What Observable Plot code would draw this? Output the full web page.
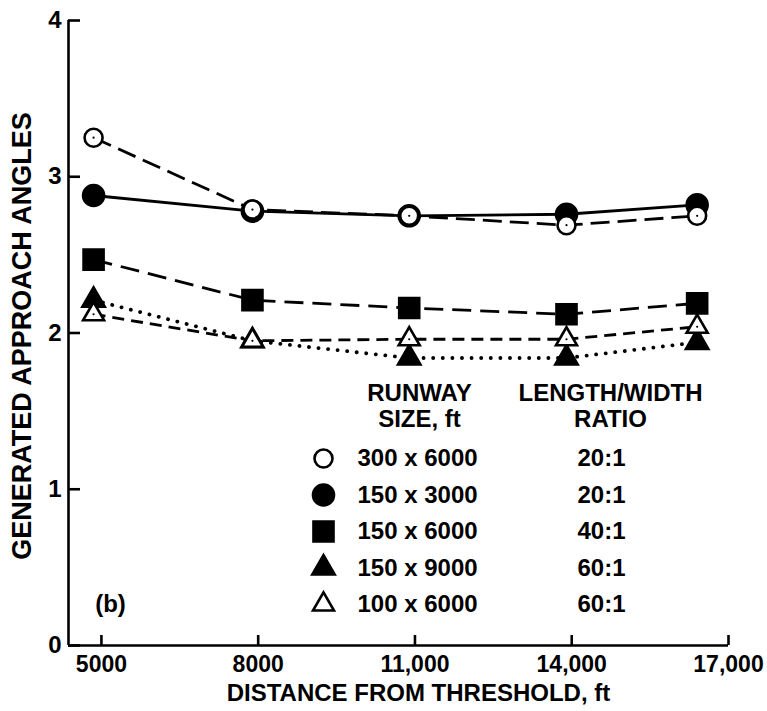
<!DOCTYPE html>
<html><head><meta charset="utf-8">
<script src="https://cdn.jsdelivr.net/npm/d3@7"></script>
<script src="https://cdn.jsdelivr.net/npm/@observablehq/plot@0.6"></script>
<style>body{margin:0;background:#fff} svg{display:block}</style>
</head><body><div id="chart"></div>
<script>
// ---- data ----
const distances = [4850, 7890, 10890, 13900, 16400];
const runwaySizes = ["300 x 6000", "150 x 3000", "150 x 6000", "150 x 9000", "100 x 6000"];
const ratios = ["20:1", "20:1", "40:1", "60:1", "60:1"];
const angles300x6000 = [3.25, 2.79, 2.75, 2.69, 2.75];
const angles150x3000 = [2.88, 2.78, 2.75, 2.76, 2.82];
const angles150x6000 = [2.47, 2.21, 2.16, 2.12, 2.19];
const angles150x9000 = [2.21, 1.95, 1.84, 1.84, 1.94];
const angles100x6000 = [2.12, 1.95, 1.96, 1.96, 2.04];
const xTicks = [5000, 8000, 11000, 14000, 17000];
const xTickLabels = ["5000", "8000", "11,000", "14,000", "17,000"];
const yTicks = [0, 1, 2, 3, 4];
const xDomain = [4370, 17000];
const yDomain = [0, 4];

// ---- styles ----
const seriesValues = [angles300x6000, angles150x3000, angles150x6000, angles150x9000, angles100x6000];
const styles = [
  {symbol: "circle", fill: "white", r: 9, dash: "19,8", width: 2.8},
  {symbol: "circle", fill: "black", r: 10.5, dash: null, width: 2.8},
  {symbol: "square", fill: "black", r: 11.3, dash: "19,9", width: 2.8},
  {symbol: "triangle", fill: "black", r: 8.3, dash: "0.1,9.5", width: 3.8},
  {symbol: "triangle", fill: "white", r: 7.8, dash: "12,7", width: 2.8}
];
const series = runwaySizes.map((name, i) => ({name, ratio: ratios[i], values: seriesValues[i], ...styles[i]}));
const rows = s => distances.map((d, j) => ({x: d, y: s.values[j], name: s.name}));

const FONT = "'Liberation Sans', Arial, Helvetica, sans-serif";
const W = 767, H = 711, ML = 68, MR = 39, MT = 20, MB = 66;
const PW = W - ML - MR, PH = H - MT - MB;

const lineMarks = series.map(s => Plot.line(rows(s), {
  x: "x", y: "y", stroke: "black", strokeWidth: s.width,
  strokeDasharray: s.dash, strokeLinecap: s.dash && s.dash.startsWith("0.1") ? "round" : "butt"
}));
const drawOrder = [3, 4, 2, 1, 0];
const dotMarks = drawOrder.map(i => {
  const s = series[i];
  return Plot.dot(rows(s), {x: "x", y: "y", symbol: s.symbol, r: s.r, fill: s.fill, stroke: "black", strokeWidth: 2.6});
});
const centerDots = [0, 4].map(i => Plot.dot(rows(series[i]), {x: "x", y: "y", r: 1.1, fill: "black", stroke: "none"}));

const legendRowY = i => 458 + 36.5 * i - MT;
const legendMarks = series.flatMap((s, i) => [
  Plot.dot([s], {frameAnchor: "top-left", dx: 323 - ML, dy: legendRowY(i), symbol: s.symbol, r: s.r, fill: s.fill, stroke: "black", strokeWidth: 2.6}),
  Plot.text([s], {frameAnchor: "top-left", dx: 357 - ML, dy: legendRowY(i), text: "name", textAnchor: "start", lineAnchor: "middle", fontSize: 24, fontWeight: "bold", fill: "black", letterSpacing: 0.5}),
  Plot.text([s], {frameAnchor: "top-left", dx: 601 - ML, dy: legendRowY(i), text: "ratio", textAnchor: "middle", lineAnchor: "middle", fontSize: 24, fontWeight: "bold", fill: "black", letterSpacing: 4})
]);
const headMarks = [
  Plot.text(["RUNWAY\nSIZE, ft"], {frameAnchor: "top-left", dx: 419 - ML, dy: 405 - MT, textAnchor: "middle", lineAnchor: "middle", lineHeight: 1.08, fontSize: 24, fontWeight: "bold", letterSpacing: 1.5}),
  Plot.text(["LENGTH/WIDTH\nRATIO"], {frameAnchor: "top-left", dx: 610 - ML, dy: 405 - MT, textAnchor: "middle", lineAnchor: "middle", lineHeight: 1.08, fontSize: 24, fontWeight: "bold", letterSpacing: 1.5}),
  Plot.text(["(b)"], {frameAnchor: "top-left", dx: 110 - ML, dy: 604 - MT, textAnchor: "middle", lineAnchor: "middle", fontSize: 24, fontWeight: "bold"}),
  Plot.text(["DISTANCE FROM THRESHOLD, ft"], {frameAnchor: "bottom", dx: 20, dy: 48, textAnchor: "middle", lineAnchor: "middle", fontSize: 24, fontWeight: "bold", letterSpacing: 1}),
  Plot.text(["GENERATED APPROACH ANGLES"], {frameAnchor: "left", dx: -46, dy: 3, rotate: -90, textAnchor: "middle", lineAnchor: "middle", fontSize: 27, fontWeight: "bold", letterSpacing: 1.5})
];

const chart = Plot.plot({
  width: W, height: H,
  marginLeft: ML, marginRight: MR, marginTop: MT, marginBottom: MB,
  style: {fontFamily: FONT, background: "white", color: "black", overflow: "visible"},
  x: {domain: xDomain, axis: null},
  y: {domain: yDomain, axis: null},
  marks: [
    Plot.ruleY([yDomain[0]], {stroke: "black", strokeWidth: 2.6}),
    Plot.ruleX([xDomain[0]], {stroke: "black", strokeWidth: 2.6}),
    Plot.tickX(xTicks, {x: d => d, insetTop: PH - 10, stroke: "black", strokeWidth: 2.6}),
    Plot.tickY(yTicks, {y: d => d, insetRight: PW - 12, stroke: "black", strokeWidth: 2.6}),
    Plot.axisX(xTicks, {anchor: "bottom", tickSize: 0, tickPadding: 10, tickFormat: d => xTickLabels[xTicks.indexOf(d)], fontSize: 23, fontWeight: "bold", label: null}),
    Plot.axisY(yTicks, {anchor: "left", tickSize: 0, tickPadding: 7, tickFormat: d => String(d), fontSize: 24, fontWeight: "bold", label: null}),
    ...lineMarks,
    ...dotMarks,
    ...centerDots,
    ...legendMarks,
    ...headMarks
  ]
});
document.getElementById("chart").appendChild(chart);
</script>
</body></html>
